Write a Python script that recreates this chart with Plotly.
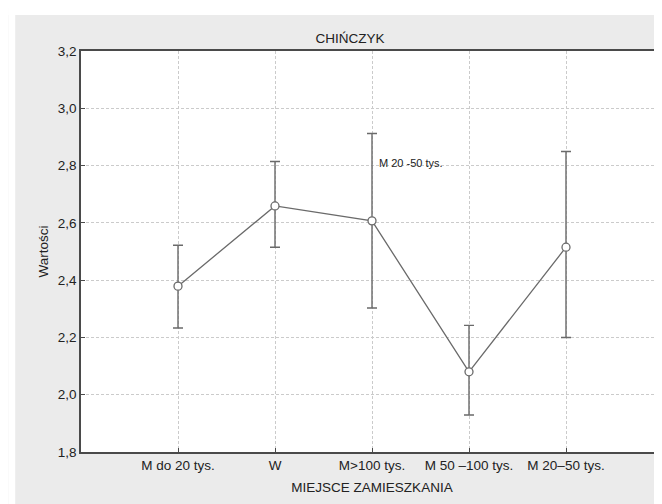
import plotly.graph_objects as go

categories = ["M do 20 tys.", "W", "M>100 tys.", "M 50 \u2013100 tys.", "M 20\u201350 tys."]
means = [2.379, 2.659, 2.607, 2.080, 2.515]
upper = [2.522, 2.814, 2.912, 2.242, 2.849]
lower = [2.233, 2.515, 2.303, 1.929, 2.200]
y_ticks = [1.8, 2.0, 2.2, 2.4, 2.6, 2.8, 3.0, 3.2]

xpos = list(range(len(categories)))
err_plus = [u - m for u, m in zip(upper, means)]
err_minus = [m - l for m, l in zip(means, lower)]

FONT = "Liberation Sans, Arial, sans-serif"
LINE = "#6a6a6a"
TXT = "#222222"

fig = go.Figure()
fig.add_trace(go.Scatter(
    x=xpos, y=means, mode="lines+markers",
    line=dict(color=LINE, width=1.3),
    marker=dict(symbol="circle", size=8, color="white", line=dict(color=LINE, width=1.3)),
    error_y=dict(type="data", symmetric=False, array=err_plus, arrayminus=err_minus,
                 color=LINE, thickness=1.4, width=5),
    showlegend=False, cliponaxis=False,
))

fig.add_annotation(x=2.055, y=2.809, xref="x", yref="y", text="M 20 -50 tys.",
                   showarrow=False, xanchor="left", yanchor="middle",
                   font=dict(family=FONT, size=11, color=TXT))

W, H = 662, 504
L, R, T, B = 73, 5, 43, 60
pw, ph = W - L - R, H - T - B

def px(x):
    return (x - L) / pw

def py(y):
    return (H - B - y) / ph

# white outer strips (top and left)
fig.add_shape(type="rect", xref="paper", yref="paper", x0=px(0), x1=px(W), y0=py(7), y1=py(0),
              fillcolor="white", line=dict(width=0), layer="below")
fig.add_shape(type="rect", xref="paper", yref="paper", x0=px(0), x1=px(7), y0=py(H), y1=py(0),
              fillcolor="white", line=dict(width=0), layer="below")

fig.update_layout(
    width=W, height=H,
    margin=dict(l=L, r=R, t=T, b=B),
    paper_bgcolor="#ebebeb", plot_bgcolor="white",
    separators=", ",
    font=dict(family=FONT, size=13.5, color=TXT),
    title=dict(text="CHI\u0143CZYK", x=342 / W, xanchor="center",
               y=1 - 30 / H, yanchor="middle", font=dict(family=FONT, size=13.5, color=TXT)),
)

common = dict(
    showgrid=True, gridcolor="#cbcbcb", griddash="3px,2px", gridwidth=1,
    showline=True, linecolor="#4a4a4a", linewidth=1.5, mirror=True,
    ticks="inside", ticklen=4, tickcolor="#4a4a4a",
    tickfont=dict(family=FONT, size=13.5, color=TXT),
    zeroline=False,
)
fig.update_xaxes(
    range=[-1, 5], tickmode="array", tickvals=xpos, ticktext=categories,
    title=dict(text="MIEJSCE ZAMIESZKANIA", standoff=11, font=dict(family=FONT, size=13.5, color=TXT)),
    **common,
)
fig.update_yaxes(
    range=[1.8, 3.2], tickmode="array", tickvals=y_ticks, tickformat=".1f",
    title=dict(text="Warto\u015bci", standoff=6, font=dict(family=FONT, size=13.5, color=TXT)),
    **common,
)

fig.write_html("out.html")
